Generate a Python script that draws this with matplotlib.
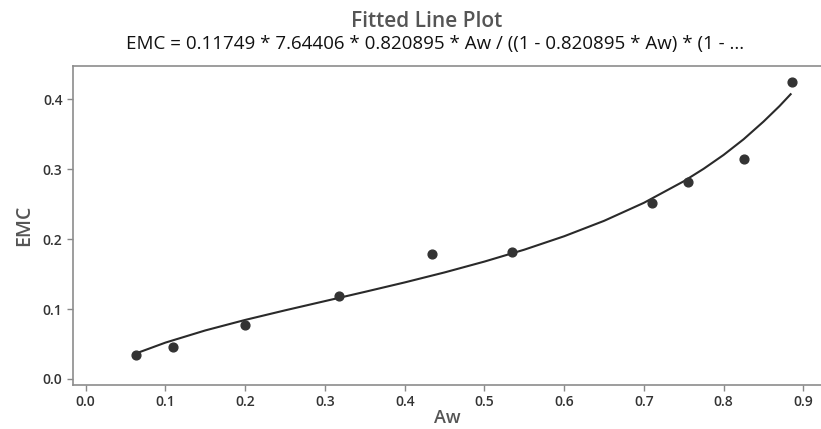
import matplotlib
matplotlib.use("Agg")
import matplotlib.pyplot as plt

# observed points
aw = [0.063, 0.110, 0.200, 0.317, 0.434, 0.534, 0.710, 0.755, 0.825, 0.886]
emc = [0.034, 0.045, 0.077, 0.119, 0.178, 0.181, 0.251, 0.281, 0.315, 0.424]

# fitted line
fit_aw = [0.063, 0.10, 0.15, 0.20, 0.25, 0.30, 0.35, 0.40, 0.45, 0.50, 0.55,
          0.60, 0.65, 0.70, 0.75, 0.775, 0.80, 0.825, 0.85, 0.87, 0.884]
fit_emc = [0.0365, 0.0520, 0.0694, 0.0844, 0.0981, 0.1113, 0.1245, 0.1380,
           0.1523, 0.1678, 0.1848, 0.2040, 0.2260, 0.2518, 0.2826, 0.3005,
           0.3203, 0.3426, 0.3679, 0.3900, 0.4070]

xticks = [0.0, 0.1, 0.2, 0.3, 0.4, 0.5, 0.6, 0.7, 0.8, 0.9]
yticks = [0.0, 0.1, 0.2, 0.3, 0.4]

plt.rcParams['font.family'] = ['Open Sans', 'DejaVu Sans']

fig = plt.figure(figsize=(8.21, 4.29), dpi=100)
ax = fig.add_axes([0.0889, 0.1026, 0.912, 0.743])

ax.plot(fit_aw, fit_emc, color='#2a2a2a', lw=1.5)
ax.scatter(aw, emc, s=40, color='#333333', zorder=3)

ax.set_xlim(-0.016, 0.923)
ax.set_ylim(-0.0086, 0.447)
ax.set_xticks(xticks)
ax.set_xticklabels([f'{v:.1f}' for v in xticks])
ax.set_yticks(yticks)
ax.set_yticklabels([f'{v:.1f}' for v in yticks])
ax.tick_params(colors='#888888', labelcolor='#333333', labelsize=10, length=4, width=1)
for lab in ax.get_xticklabels() + ax.get_yticklabels():
    lab.set_fontweight('semibold')

for s in ax.spines.values():
    s.set_color('#8c8c8c')
    s.set_linewidth(1.2)

ax.set_xlabel('Aw', fontsize=13, color='#555555', fontweight='semibold', labelpad=0)
ax.set_ylabel('EMC', fontsize=14, color='#555555', fontweight='semibold', labelpad=6)

fig.text(0.520, 0.937, 'Fitted Line Plot', ha='center', fontsize=15, color='#555555',
         fontweight='semibold')
fig.text(0.530, 0.885, 'EMC = 0.11749 * 7.64406 * 0.820895 * Aw / ((1 - 0.820895 * Aw) * (1 - ...',
         ha='center', fontsize=13.5, color='#111111')

fig.savefig('out.png', dpi=100)
